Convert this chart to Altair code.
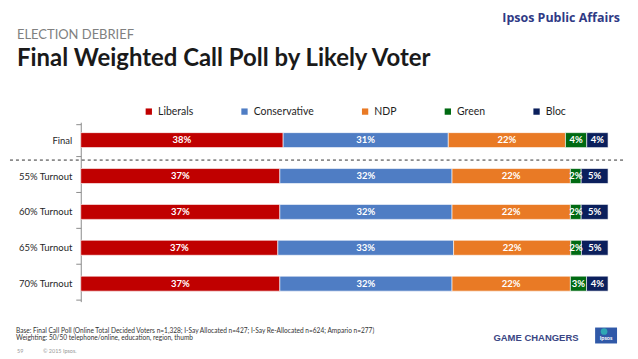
import altair as alt
import pandas as pd

rows = ["Final", "55% Turnout", "60% Turnout", "65% Turnout", "70% Turnout"]
parties = ["Liberals", "Conservative", "NDP", "Green", "Bloc"]
colors = ["#C00000", "#4F7DC4", "#E97A25", "#006A12", "#0B1F5C"]
liberals = [38, 37, 37, 37, 37]
conservative = [31, 32, 32, 33, 32]
ndp = [22, 22, 22, 22, 22]
green = [4, 2, 2, 2, 3]
bloc = [4, 5, 5, 5, 4]

series = [liberals, conservative, ndp, green, bloc]
records = []
for pi, (p, vals) in enumerate(zip(parties, series)):
    for r, v in zip(rows, vals):
        records.append({"row": r, "party": p, "order": pi, "value": v, "label": f"{v}%"})
df = pd.DataFrame(records)

FONT = "Lato"

base = alt.Chart(df).transform_joinaggregate(
    total="sum(value)", groupby=["row"]
).transform_calculate(
    pct="datum.value / datum.total"
).transform_stack(
    stack="pct", groupby=["row"], sort=[alt.SortField("order")], as_=["x0", "x1"]
).transform_calculate(
    mid="(datum.x0 + datum.x1) / 2"
)

yenc = alt.Y("row:N", sort=rows, title=None,
             axis=alt.Axis(tickBand="extent", tickSize=5, tickColor="#8c8c8c",
                           domainColor="#8c8c8c", labelFont=FONT, labelFontSize=9.5,
                           labelColor="#262626", labelPadding=4, labelFontWeight="normal"))
xscale = alt.Scale(domain=[0, 1], nice=False, zero=False)

bars = base.mark_bar(size=15, stroke="white", strokeWidth=0.6).encode(
    y=yenc,
    x=alt.X("x0:Q", scale=xscale, axis=None),
    x2="x1:Q",
    color=alt.Color("party:N", scale=alt.Scale(domain=parties, range=colors),
                    legend=alt.Legend(title=None, orient="none", direction="horizontal",
                                      legendX=63, legendY=-16, symbolType="square",
                                      symbolSize=40, symbolStrokeWidth=0,
                                      labelFont=FONT, labelFontSize=10.5,
                                      labelColor="#1f1f1f", columnPadding=46,
                                      labelOffset=4, padding=0)),
    order=alt.Order("order:Q"),
)

labels = base.mark_text(color="white", font=FONT, fontSize=9.5, fontWeight="bold").encode(
    y=alt.Y("row:N", sort=rows),
    x=alt.X("mid:Q", scale=xscale),
    text="label:N",
)


def note(text, x, y, size, color="#333333", weight="normal", align="left", font=FONT):
    return alt.Chart(pd.DataFrame({"t": [text]})).mark_text(
        align=align, baseline="alphabetic", fontSize=size, color=color,
        fontWeight=weight, font=font
    ).encode(text="t:N", x=alt.value(x), y=alt.value(y))


one = pd.DataFrame({"a": [0]})
dash = alt.Chart(one).mark_rule(strokeDash=[3, 3], color="#333333", strokeWidth=1).encode(
    x=alt.value(-71), x2=alt.value(547), y=alt.value(38)
)
logo = alt.Chart(one).mark_rect(color="#3059A8").encode(
    x=alt.value(516), x2=alt.value(538), y=alt.value(206), y2=alt.value(222)
)
logo_dot = alt.Chart(one).mark_point(filled=True, color="#2FA7B4", size=45, opacity=1).encode(
    x=alt.value(525), y=alt.value(210)
)

layers = [
    bars, labels, dash, logo, logo_dot,
    note("Ipsos Public Affairs", 541, -101, 12.5, color="#2F3A85", weight="bold", align="right", font="Open Sans"),
    note("ELECTION DEBRIEF", -64, -83, 13, color="#808080"),
    note("Final Weighted Call Poll by Likely Voter", -64, -56, 24, color="#1A1A1A", weight="bold"),
    note("Base: Final Call Poll (Online Total Decided Voters n=1,328; I-Say Allocated n=427; I-Say Re-Allocated n=624; Ampario n=277)",
         -65, 211, 6.6, color="#333333"),
    note("Weighting: 50/50 telephone/online, education, region, thumb", -65, 218.5, 6.6, color="#333333"),
    note("59", -64, 232, 5.5, color="#999999"),
    note("\u00a9 2015 Ipsos.", -38, 232, 5.5, color="#999999"),
    note("GAME CHANGERS", 414, 220, 9.5, color="#3A4684", weight="bold", font="Liberation Sans"),
    note("Ipsos", 527, 219, 5.5, color="white", weight="bold", align="center"),
]

chart = alt.layer(*layers).properties(
    width=529, height=180,
    autosize=alt.AutoSizeParams(type="none"),
    padding={"left": 73, "top": 114, "right": 22, "bottom": 52},
).configure_view(stroke=None)

chart.save("out.html", embed_options={"renderer": "svg", "actions": False})
